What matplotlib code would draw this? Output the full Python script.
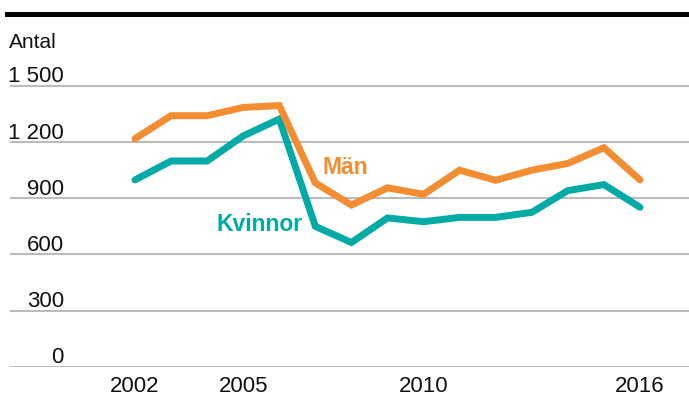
import matplotlib
matplotlib.use("Agg")
import matplotlib.pyplot as plt
from matplotlib.lines import Line2D

plt.rcParams['font.family'] = ['Liberation Sans', 'DejaVu Sans']

years = list(range(2002, 2017))
man = [1217, 1340, 1340, 1384, 1394, 981, 863, 955, 920, 1049, 995, 1049, 1085, 1169, 997]
kvinnor = [997, 1098, 1098, 1232, 1322, 749, 663, 794, 774, 797, 797, 824, 940, 972, 851]
ytick_vals = [0, 300, 600, 900, 1200, 1500]
ytick_labels = ['0', '300', '600', '900', '1 200', '1 500']
xtick_vals = [2002, 2005, 2010, 2016]
xtick_labels = ['2002', '2005', '2010', '2016']

ORANGE = '#F28E31'
TEAL = '#00ABA6'
GRID = '#BBBBBB'

W, H = 689, 401
fig = plt.figure(figsize=(W / 100, H / 100), dpi=100)

# axes placement (pixels)
ax_left, ax_right = 10, 689
ax_bottom_px, ax_top_px = 366.7, 60
ax = fig.add_axes([ax_left / W, (H - ax_bottom_px) / H,
                   (ax_right - ax_left) / W, (ax_bottom_px - ax_top_px) / H])

px_per_year = (640 - 135) / 14
xmin = 2002 - (135 - ax_left) / px_per_year
xmax = 2016 + (ax_right - 640) / px_per_year
px_per_unit = (366.7 - 85.7) / 1500
ymax = (ax_bottom_px - ax_top_px) / px_per_unit
ax.set_xlim(xmin, xmax)
ax.set_ylim(0, ymax)

for s in ax.spines.values():
    s.set_visible(False)

for v in ytick_vals:
    ax.axhline(v, color=GRID, lw=1.5, zorder=1)

ax.set_yticks([])
ax.set_xticks(xtick_vals)
ax.set_xticklabels(xtick_labels, fontsize=16, color='#111111')
ax.tick_params(axis='x', length=0, pad=6.5)

label_x = (64 - ax_left) / (ax_right - ax_left)
for v, lab in zip(ytick_vals, ytick_labels):
    ax.annotate(lab, xy=(label_x, v), xycoords=ax.get_yaxis_transform(),
                xytext=(0, 2.4), textcoords='offset points',
                ha='right', va='baseline', fontsize=16, color='#111111')

ax.plot(years, kvinnor, color=TEAL, lw=5, solid_capstyle='round',
        solid_joinstyle='miter', zorder=3)
ax.plot(years, man, color=ORANGE, lw=5, solid_capstyle='round',
        solid_joinstyle='miter', zorder=4)

ax.text(2007.2, 1029, 'Män', color=ORANGE, fontsize=16.5, fontweight='bold',
        ha='left', va='baseline')
ax.text(2004.27, 724, 'Kvinnor', color=TEAL, fontsize=16.5, fontweight='bold',
        ha='left', va='baseline')

# top black rule
fig.add_artist(Line2D([7 / W, 1.0], [(H - 13.5) / H, (H - 13.5) / H],
                      color='black', lw=3.6, transform=fig.transFigure))

fig.text(9.3 / W, (H - 48.3) / H, 'Antal', fontsize=15, color='#111111',
         ha='left', va='baseline')

fig.savefig('out.png', dpi=100)
